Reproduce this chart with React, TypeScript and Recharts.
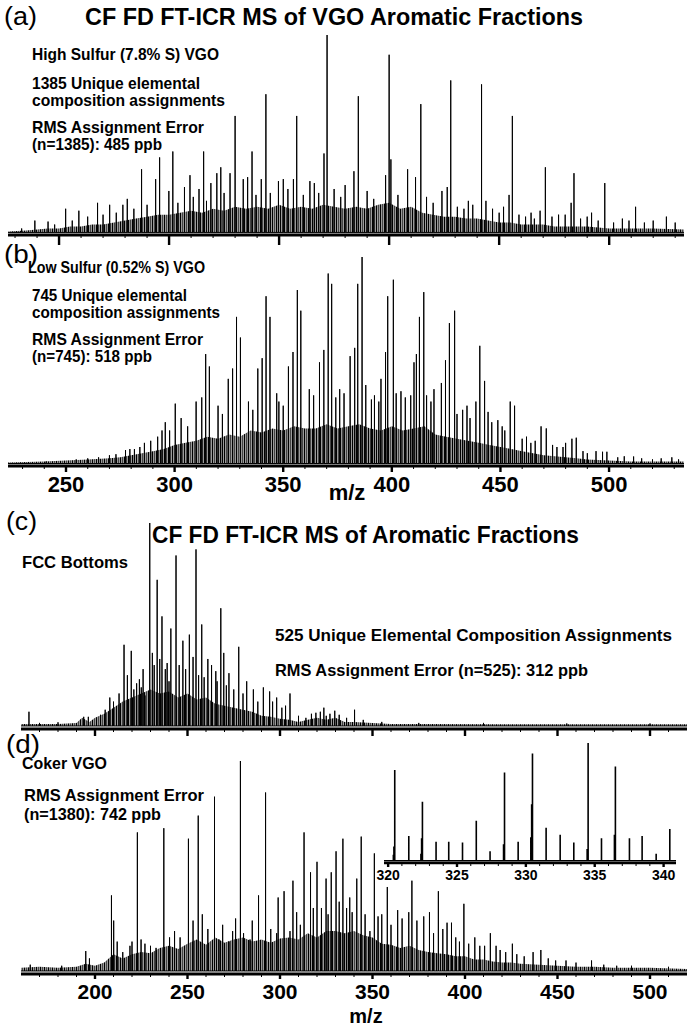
import React from 'react'
import { Area, ComposedChart, Line, XAxis, YAxis } from 'recharts'

// (a) high sulfur VGO
const aPeakMz = [233, 239, 245, 248, 253, 256, 259, 263, 267.5, 270, 273, 276, 279, 281, 284, 287.5, 290, 293.9, 295.7, 299.9, 301.7, 304, 307, 309.5, 311, 313.6, 315.7, 317, 319, 321.7, 323.5, 325, 327.7, 330, 333.7, 335.7, 337.7, 339.5, 341.9, 344, 346, 349.7, 351.9, 354, 356.5, 358, 361, 364, 366, 368, 370.4, 371.8, 375, 378, 380, 384, 386, 390, 393, 398.4, 400, 400.8, 404, 408.4, 412, 414.4, 417, 420, 424, 426.4, 428, 431, 434, 436, 438, 442, 444, 447, 450, 452, 454.5, 456, 459, 462, 464.5, 466, 468.6, 471, 474, 477, 480, 482.7, 484, 487, 490, 492, 495, 498, 502, 506, 509, 512, 516, 520, 526, 530]
const aPeakInt = [2, 6, 5.5, 4, 12, 6, 11, 8, 15, 9, 14, 10, 14, 17, 12, 32, 14, 27, 38, 21, 41, 15, 23, 29, 18, 22, 41, 16, 25, 30, 33, 20, 30, 59, 27, 28, 41, 19, 27, 70, 20, 26, 27, 22, 27, 59, 19, 26, 25, 20, 40, 100, 22, 18, 24, 31, 69, 21, 17, 29, 90, 37, 19, 32, 28, 65, 18, 15, 21, 23, 77, 13, 12, 16, 14, 75, 16, 12, 10, 13, 19, 59, 9, 8, 10, 7, 11, 33, 8, 9, 9, 15, 30, 7, 8, 10, 6, 25, 5, 7, 6, 13, 5, 6, 8, 5]
const aGrassMz = [227, 235, 240, 245, 250, 255, 260, 265, 270, 275, 280, 285, 290, 295, 300, 305, 310, 315, 320, 325, 330, 335, 340, 345, 350, 355, 360, 365, 370, 375, 380, 385, 390, 395, 400, 405, 410, 415, 420, 425, 430, 435, 440, 445, 450, 455, 460, 465, 470, 475, 480, 490, 500, 510, 520, 534]
const aGrassInt = [0.5, 1, 1.5, 2, 2, 3, 3, 4, 4, 5, 6, 7, 8, 9, 9, 10, 11, 10, 12, 11, 13, 12, 13, 12, 14, 12, 13, 12, 14, 13, 12, 13, 12, 14, 15, 12, 13, 10, 9, 8, 8, 7, 7, 6, 5, 5, 4, 4, 4, 3, 3, 3, 2, 2, 2, 1.5]
const aTicks = [230, 240, 250, 260, 270, 280, 290, 300, 310, 320, 330, 340, 350, 360, 370, 380, 390, 400, 410, 420, 430, 440, 450, 460, 470, 480, 490, 500, 510, 520, 530]

// (b) low sulfur VGO
const bPeakMz = [240.9, 254.7, 260, 265, 270, 273, 277.4, 279.4, 281.5, 284, 286.1, 289, 292.2, 294.2, 295.7, 297.7, 300.3, 303, 306, 309.9, 312.5, 314.3, 316, 320, 322, 324.7, 326.7, 328.5, 330.3, 334, 336, 338.3, 340.3, 342.1, 343.9, 347, 348, 350, 352.4, 354.5, 356.5, 358.1, 362, 364, 366.7, 368.7, 370.7, 372.3, 374.2, 376, 378, 380.8, 382.9, 384.3, 386.3, 388, 390.6, 392, 394, 395, 397.1, 398.1, 400.7, 402, 404.2, 406.2, 408.7, 410.2, 411.3, 412.7, 414.7, 416, 418, 419.4, 422.8, 424.7, 426.5, 428.9, 430, 432.6, 434.6, 436, 438.7, 440.5, 442.7, 444.3, 446, 448.8, 450.8, 452, 454.5, 456.5, 460, 462, 464, 466, 468.7, 471.1, 474, 476, 478.8, 480, 482.9, 484.9, 488, 490, 494, 497, 499, 504, 507, 511.3, 515, 520, 524, 528.9, 532]
const bPeakInt = [1, 2, 2.5, 3, 4, 4.5, 6.5, 7, 7, 8, 10, 11, 13, 16, 20, 16, 29, 22, 18, 30, 32, 53, 47, 28, 24, 41, 46, 71, 61, 30, 26, 46, 51, 81, 71, 34, 30, 28, 47, 54, 84, 74, 36, 33, 49, 55, 92, 87, 32, 36, 34, 52, 56, 87, 100, 38, 31, 33, 30, 41, 54, 81, 89, 34, 35, 32, 33, 49, 53, 71, 83, 33, 30, 36, 39, 50, 68, 74, 24, 26, 28, 22, 30, 57, 40, 25, 20, 21, 18, 16, 30, 28, 12, 13, 10, 11, 18, 17, 9, 8, 8, 10, 12, 12.5, 6, 5, 6, 5.7, 5.7, 3, 3.5, 3.4, 2.5, 2, 2.5, 3, 2]
const bGrassMz = [223, 240, 250, 260, 270, 275, 280, 285, 290, 295, 300, 305, 310, 315, 320, 325, 330, 335, 340, 345, 350, 355, 360, 365, 370, 375, 380, 385, 390, 395, 400, 405, 410, 415, 420, 425, 430, 435, 440, 445, 450, 455, 460, 465, 470, 475, 480, 485, 490, 500, 510, 520, 535]
const bGrassInt = [0.5, 1, 1.5, 2, 2.5, 3, 4, 5, 6, 7, 9, 10, 11, 13, 12, 14, 13, 16, 15, 17, 16, 18, 17, 17, 19, 17, 18, 19, 17, 16, 18, 16, 17, 18, 14, 13, 12, 11, 10, 9, 8, 7, 6, 5, 4, 3.5, 3, 2.5, 2, 1.5, 1, 1, 1]
const bTicks = [230, 240, 250, 260, 270, 280, 290, 300, 310, 320, 330, 340, 350, 360, 370, 380, 390, 400, 410, 420, 430, 440, 450, 460, 470, 480, 490, 500, 510, 520, 530]

// (c) FCC bottoms
const cPeakMz = [164.3, 170, 180, 193.9, 196.4, 203, 205.5, 208, 210, 213, 215.7, 217.5, 219.6, 221, 222.5, 224, 225, 226, 227, 229.6, 231, 232, 233.6, 235, 236.2, 238, 239, 240, 241, 243.8, 245.5, 247.5, 249, 251, 253, 254.6, 256, 257.7, 259, 261, 263, 265.3, 266, 268, 269.6, 271, 272.4, 275, 277.7, 280, 282, 285.6, 288, 291, 294.4, 296, 298.2, 301, 303, 305.4, 310, 314, 317, 319.4, 321.8, 323.7, 325, 327, 329.6, 332, 336, 340.3, 345, 355, 375, 410, 455, 500]
const cPeakInt = [7, 1.5, 1.8, 4.5, 4.5, 5.5, 8, 14, 12, 16, 40, 25, 37, 18, 21, 23, 19, 28, 15, 100, 36, 30, 72, 33, 54, 28, 31, 22, 48, 84, 30, 42, 28, 45, 34, 87, 25, 50, 24, 33, 30, 27, 22, 58, 36, 20, 26, 18, 39, 16, 22, 18, 12, 19, 17, 12, 14, 9, 10, 16, 5, 4, 6, 6.5, 7, 9, 5, 6, 7.5, 5.5, 4, 8, 3, 2, 1.5, 1.5, 1.2, 1.2]
const cGrassMz = [160, 170, 180, 190, 193, 197, 200, 205, 210, 215, 220, 225, 230, 235, 240, 245, 250, 255, 260, 265, 270, 275, 280, 285, 290, 295, 300, 305, 310, 315, 320, 325, 330, 335, 340, 350, 360, 380, 420, 470, 520]
const cGrassInt = [1, 1, 1, 1.5, 4, 2, 4, 6, 9, 12, 14, 16, 18, 16, 17, 14, 16, 13, 14, 11, 10, 9, 8, 7, 5, 4.5, 3.5, 3, 2, 3, 4, 3, 4, 2, 2, 1.5, 1, 1, 0.8, 0.8, 0.8]
const cTicks = [170, 180, 190, 200, 210, 220, 230, 240, 250, 260, 270, 280, 290, 300, 310, 320, 330, 340, 350, 360, 370, 380, 390, 400, 410, 420, 430, 440, 450, 460, 470, 480, 490, 500, 510]

// (d) coker VGO
const dPeakMz = [165, 182, 195, 197, 208.9, 210.1, 212, 215, 218.9, 220, 222.9, 224.9, 227, 230, 233, 237.2, 240.3, 243, 246, 250.5, 253, 255.8, 258, 261, 264.6, 267, 269, 272.4, 274.4, 276, 278.6, 280.3, 283.8, 285, 288.4, 292.2, 295, 298.2, 299, 302.2, 305.4, 307, 309, 311, 313, 316.5, 318, 320, 322.4, 324.9, 326, 327.7, 330.3, 332, 334, 336, 337.7, 339, 341.5, 343.9, 346, 348.6, 351, 353, 355, 358, 360, 363.6, 366, 369.6, 371.3, 374, 377.7, 380.8, 383, 385.6, 388, 390.3, 392.7, 395, 397, 399.4, 402, 405.3, 408, 410.6, 413.7, 416.8, 419, 422, 425.6, 428, 432, 436.8, 441, 445, 449, 454.6, 460, 468.4, 475, 482, 490, 510]
const dPeakInt = [3, 2.5, 9.5, 6, 36, 24, 14, 9, 12, 14, 66, 15, 13, 12, 11, 68, 16, 19, 16, 63, 24, 74, 27, 20, 83, 15, 22, 14, 19, 25, 100, 18, 15, 24, 36, 85, 20, 18, 35, 38, 19, 43, 28, 22, 66, 47, 30, 52, 30, 44, 27, 47, 57, 33, 63, 30, 35, 28, 44, 64, 27, 19, 56, 26, 27, 40, 22, 29, 25, 28, 43, 24, 26, 28, 18, 38, 20, 23, 23, 16, 14, 32, 13, 16, 12, 12, 18, 12, 10, 9, 13, 8, 7, 9, 10, 6, 5, 5, 4, 5, 3, 2.5, 2.5, 2]
const dGrassMz = [160, 170, 180, 190, 195, 200, 205, 210, 215, 220, 225, 230, 235, 240, 245, 250, 255, 260, 265, 270, 275, 280, 285, 290, 295, 300, 305, 310, 315, 320, 325, 330, 335, 340, 345, 350, 355, 360, 365, 370, 375, 380, 385, 390, 395, 400, 405, 410, 415, 420, 425, 430, 440, 450, 460, 470, 480, 500, 520]
const dGrassInt = [1.5, 2, 1.5, 2, 3.5, 2.5, 4, 8, 6, 8, 9, 8.5, 11, 12, 10.5, 13, 15, 12.5, 16, 13.5, 15, 16, 14, 15, 13.5, 15.5, 16, 15, 18, 16, 19, 19, 18, 19, 17, 16, 13, 12.5, 11, 12, 10, 9, 8.5, 8, 7, 7, 5.5, 5.5, 4.5, 4, 4, 3.5, 3, 2.5, 2, 2, 1.5, 1.5, 1]
const dTicks = [170, 180, 190, 200, 210, 220, 230, 240, 250, 260, 270, 280, 290, 300, 310, 320, 330, 340, 350, 360, 370, 380, 390, 400, 410, 420, 430, 440, 450, 460, 470, 480, 490, 500, 510]

// (d) inset 320-340
const insetMz = [320.38, 320.42, 320.48, 321.5, 322.38, 322.43, 322.49, 323.48, 324.4, 325.4, 326.4, 327.4, 328.38, 328.45, 329.44, 330.36, 330.42, 330.48, 331.47, 332.49, 333.48, 334.45, 334.52, 335.49, 336.43, 336.5, 337.52, 338.44, 339.46, 340.45]
const insetInt = [5, 12, 77, 21, 6, 19, 50, 16, 16, 15.5, 34, 8, 14, 75, 16, 20, 48, 91, 28, 22, 15.5, 10, 100, 19, 22, 80, 19, 21, 6, 27]
const insetTicks = [320, 321, 322, 323, 324, 325, 326, 327, 328, 329, 330, 331, 332, 333, 334, 335, 336, 337, 338, 339, 340]

const FONT = "'Liberation Sans', Arial, Helvetica, sans-serif"

type Pt = { mz: number; v: number }

function toSticks(mz: number[], ints: number[], lo: number, hi: number): Pt[] {
  const n = Math.min(mz.length, ints.length)
  const idx = Array.from({ length: n }, (_, i) => i).sort((p, q) => mz[p] - mz[q])
  const out: Pt[] = [{ mz: lo, v: 0 }]
  idx.forEach((i) => {
    out.push({ mz: mz[i], v: 0 }, { mz: mz[i], v: ints[i] }, { mz: mz[i], v: 0 })
  })
  out.push({ mz: hi, v: 0 })
  return out
}

type SpecProps = {
  id: string
  top: number
  height: number
  left: number
  right: number
  plotTop: number
  axisHeight: number
  domain: [number, number]
  yMin: number
  peakMz: number[]
  peakInt: number[]
  grassMz?: number[]
  grassInt?: number[]
  ticks: number[]
  major: number
  majorLen: number
  minorLen: number
  labels?: boolean
  labelDy?: number
  labelSize?: number
  stickWidth?: number
  axisWidth?: number
}

function Spectrum(p: SpecProps) {
  const sticks = toSticks(p.peakMz, p.peakInt, p.domain[0], p.domain[1])
  const grass = (p.grassMz ?? []).map((m, i) => ({ mz: m, g: (p.grassInt ?? [])[i] }))

  const renderTick = (t: any) => {
    const v = t.payload.value as number
    const isMajor = v % p.major === 0
    return (
      <g>
        <line
          x1={t.x}
          x2={t.x}
          y1={t.y}
          y2={t.y + (isMajor ? p.majorLen : p.minorLen)}
          stroke="#000"
          strokeWidth={isMajor ? 2.4 : 1}
        />
        {p.labels && isMajor && (
          <text
            x={t.x}
            y={t.y + (p.labelDy ?? 20)}
            textAnchor="middle"
            fontFamily={FONT}
            fontWeight={700}
            fontSize={p.labelSize ?? 22}
            fill="#000"
          >
            {v}
          </text>
        )}
      </g>
    )
  }

  return (
    <div style={{ position: 'absolute', left: 0, top: p.top }}>
      <ComposedChart
        width={688}
        height={p.height}
        margin={{ top: p.plotTop, right: p.right, bottom: 0, left: p.left }}
      >
        <defs>
          <pattern id={`grass-${p.id}`} width="4" height="4" patternUnits="userSpaceOnUse">
            <rect width="4" height="4" fill="#9a9a9a" />
            <rect width="1" height="4" fill="#000" />
            <rect x="2" width="1" height="4" fill="#444" />
          </pattern>
        </defs>
        <XAxis
          type="number"
          dataKey="mz"
          domain={p.domain}
          allowDataOverflow
          ticks={p.ticks}
          interval={0}
          tickSize={0}
          tickMargin={0}
          tickLine={false}
          height={p.axisHeight}
          axisLine={{ stroke: '#000', strokeWidth: p.axisWidth ?? 3 }}
          tick={renderTick}
        />
        <YAxis hide type="number" domain={[p.yMin, 100]} allowDataOverflow />
        {grass.length > 0 && (
          <Area
            data={grass}
            dataKey="g"
            type="linear"
            stroke="none"
            fill={`url(#grass-${p.id})`}
            fillOpacity={1}
            baseValue={0}
            isAnimationActive={false}
          />
        )}
        <Line
          data={sticks}
          dataKey="v"
          type="linear"
          stroke="#000"
          strokeWidth={p.stickWidth ?? 1}
          dot={false}
          activeDot={false}
          isAnimationActive={false}
        />
      </ComposedChart>
    </div>
  )
}

type Label = { x: number; y: number; text: string; size: number; bold?: boolean; len?: number; anchor?: 'start' | 'middle' }

const labels: Label[] = [
  { x: 4, y: 25, text: '(a)', size: 25, len: 33 },
  { x: 85, y: 25, text: 'CF FD FT-ICR MS of VGO Aromatic Fractions', size: 24, bold: true, len: 498 },
  { x: 32, y: 60, text: 'High Sulfur (7.8% S) VGO', size: 16.5, bold: true, len: 187 },
  { x: 32, y: 89, text: '1385 Unique elemental', size: 16.5, bold: true, len: 168 },
  { x: 32, y: 106, text: 'composition assignments', size: 16.5, bold: true, len: 193 },
  { x: 32, y: 133, text: 'RMS Assignment Error', size: 16.5, bold: true, len: 172 },
  { x: 32, y: 150, text: '(n=1385): 485 ppb', size: 16.5, bold: true, len: 130 },
  { x: 4, y: 263, text: '(b)', size: 25, len: 34 },
  { x: 28, y: 273, text: 'Low Sulfur (0.52% S) VGO', size: 16.5, bold: true, len: 177 },
  { x: 32, y: 301, text: '745 Unique elemental', size: 16.5, bold: true, len: 155 },
  { x: 32, y: 318, text: 'composition assignments', size: 16.5, bold: true, len: 188 },
  { x: 32, y: 345, text: 'RMS Assignment Error', size: 16.5, bold: true, len: 171 },
  { x: 32, y: 362, text: '(n=745): 518 ppb', size: 16.5, bold: true, len: 120 },
  { x: 347, y: 500, text: 'm/z', size: 22, bold: true, anchor: 'middle' },
  { x: 6, y: 530, text: '(c)', size: 25, len: 31 },
  { x: 152, y: 543, text: 'CF FD FT-ICR MS of Aromatic Fractions', size: 24, bold: true, len: 427 },
  { x: 22, y: 568, text: 'FCC Bottoms', size: 16.5, bold: true, len: 106 },
  { x: 275, y: 641, text: '525 Unique Elemental Composition Assignments', size: 16.5, bold: true, len: 397 },
  { x: 275, y: 676, text: 'RMS Assignment Error (n=525): 312 ppb', size: 16.5, bold: true, len: 313 },
  { x: 6, y: 753, text: '(d)', size: 25, len: 34 },
  { x: 22, y: 769, text: 'Coker VGO', size: 16.5, bold: true, len: 85 },
  { x: 24, y: 801, text: 'RMS Assignment Error', size: 16.5, bold: true, len: 180 },
  { x: 24, y: 820, text: '(n=1380): 742 ppb', size: 16.5, bold: true, len: 137 },
  { x: 366, y: 1023, text: 'm/z', size: 20, bold: true, anchor: 'middle' },
]

export default function App() {
  return (
    <div style={{ position: 'fixed', left: 0, top: 0, width: 688, height: 1026, background: '#fff', overflow: 'hidden' }}>
      <Spectrum
        id="a" top={0} height={250} left={8} right={4} plotTop={35} axisHeight={15}
        domain={[226.8, 534]} yMin={-1.3}
        peakMz={aPeakMz} peakInt={aPeakInt} grassMz={aGrassMz} grassInt={aGrassInt}
        ticks={aTicks} major={50} majorLen={10} minorLen={3}
      />
      <Spectrum
        id="b" top={240} height={266} left={8} right={4} plotTop={17} axisHeight={40}
        domain={[223.3, 534.5]} yMin={-1.2}
        peakMz={bPeakMz} peakInt={bPeakInt} grassMz={bGrassMz} grassInt={bGrassInt}
        ticks={bTicks} major={50} majorLen={6} minorLen={3} labels labelDy={26}
      />
      <Spectrum
        id="c" top={505} height={236} left={21} right={1} plotTop={18} axisHeight={12}
        domain={[160, 520]} yMin={-1.5}
        peakMz={cPeakMz} peakInt={cPeakInt} grassMz={cGrassMz} grassInt={cGrassInt}
        ticks={cTicks} major={50} majorLen={7} minorLen={3}
      />
      <Spectrum
        id="d" top={745} height={281} left={21} right={1} plotTop={16} axisHeight={52}
        domain={[160, 520]} yMin={-1.43}
        peakMz={dPeakMz} peakInt={dPeakInt} grassMz={dGrassMz} grassInt={dGrassInt}
        ticks={dTicks} major={50} majorLen={5} minorLen={3} labels labelDy={25} labelSize={21}
      />
      <Spectrum
        id="inset" top={730} height={155} left={384} right={12} plotTop={13} axisHeight={22}
        domain={[319.7, 340.9]} yMin={-1.95}
        peakMz={insetMz} peakInt={insetInt}
        ticks={insetTicks} major={5} majorLen={4} minorLen={3} labels labelDy={17} labelSize={14}
        stickWidth={1.6} axisWidth={2.5}
      />
      <svg width={688} height={1026} style={{ position: 'absolute', left: 0, top: 0, pointerEvents: 'none' }}>
        {labels.map((l, i) => (
          <text
            key={i}
            x={l.x}
            y={l.y}
            fontFamily={FONT}
            fontSize={l.size}
            fontWeight={l.bold ? 700 : 400}
            textAnchor={l.anchor ?? 'start'}
            textLength={l.len}
            lengthAdjust={l.len ? 'spacingAndGlyphs' : undefined}
            fill="#000"
          >
            {l.text}
          </text>
        ))}
      </svg>
    </div>
  )
}
